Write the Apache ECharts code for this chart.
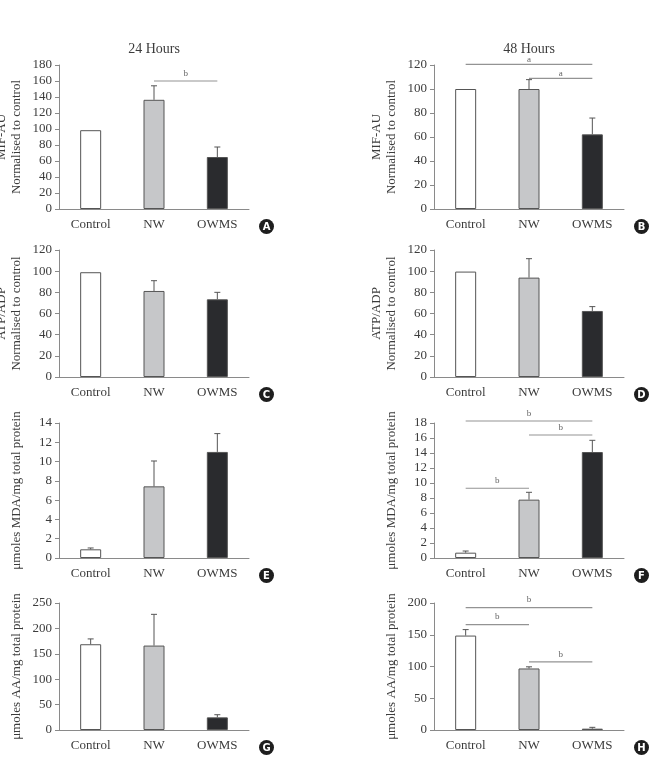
<!DOCTYPE html>
<html>
<head>
<meta charset="utf-8">
<script src="https://cdn.jsdelivr.net/npm/echarts@6/dist/echarts.min.js"></script>
<style>
html, body { margin: 0; padding: 0; background: #fff; }
#chart { width: 661px; height: 766px; }
</style>
</head>
<body>
<div id="chart"></div>
<script>
var groups = ['Control', 'NW', 'OWMS'];

// A, B  MIF-AU normalised to control
var mif24 = [98.5, 136.5, 65];
var mif24Sd = [0, 17.5, 12.5];
var mif48 = [100, 100, 62.2];
var mif48Sd = [0, 7.8, 13.6];

// C, D  ATP/ADP normalised to control
var atp24 = [99, 81.3, 73.4];
var atp24Sd = [0, 9.7, 6.6];
var atp48 = [99.6, 93.9, 62.4];
var atp48Sd = [0, 17.9, 4.1];

// E, F  umoles MDA / mg total protein
var mda24 = [0.9, 7.43, 11.0];
var mda24Sd = [0.14, 2.63, 1.9];
var mda48 = [0.71, 7.78, 14.13];
var mda48Sd = [0.22, 0.98, 1.56];

// G, H  umoles AA / mg total protein
var aa24 = [168.8, 166.2, 24.9];
var aa24Sd = [10.5, 61.5, 5.2];
var aa48 = [148.7, 96.9, 2.1];
var aa48Sd = [9.4, 2.6, 2.1];

// significance lines: [from, to, height, letter]
var sigA = [[1, 2, 160, 'b']];
var sigB = [[0, 2, 120.5, 'a'], [1, 2, 108.9, 'a']];
var sigF = [[0, 2, 18.27, 'b'], [1, 2, 16.4, 'b'], [0, 1, 9.3, 'b']];
var sigH = [[0, 2, 192.7, 'b'], [0, 1, 166, 'b'], [1, 2, 107.3, 'b']];

// y axis ranges per panel A..H
var yMax = [180, 120, 120, 120, 14, 18, 250, 200];
var yStep = [20, 20, 20, 20, 2, 2, 50, 50];

var colTitles = ['24 Hours', '48 Hours'];

var serif = '"Liberation Serif", "DejaVu Serif", serif';
var fills = ['#ffffff', '#c6c7c9', '#2a2b2e'];

var panels = [
    { mean: mif24, sd: mif24Sd, sig: sigA, gap: 3, name: 'MIF-AU\nNormalised to control', badge: 'A' },
    { mean: mif48, sd: mif48Sd, sig: sigB, gap: 0, name: 'MIF-AU\nNormalised to control', badge: 'B' },
    { mean: atp24, sd: atp24Sd, sig: [], gap: 3, name: 'ATP/ADP\nNormalised to control', badge: 'C' },
    { mean: atp48, sd: atp48Sd, sig: [], gap: 3, name: 'ATP/ADP\nNormalised to control', badge: 'D' },
    { mean: mda24, sd: mda24Sd, sig: [], gap: 3, name: 'μmoles MDA/mg total protein', badge: 'E' },
    { mean: mda48, sd: mda48Sd, sig: sigF, gap: 3, name: 'μmoles MDA/mg total protein', badge: 'F' },
    { mean: aa24, sd: aa24Sd, sig: [], gap: 3, name: 'μmoles AA/mg total protein', badge: 'G' },
    { mean: aa48, sd: aa48Sd, sig: sigH, gap: 3, name: 'μmoles AA/mg total protein', badge: 'H' }
];

// grid placement (pixels)
var colLeft = [59, 434];
var rowTop = [65, 250, 423, 603];
var rowHeight = [144, 127, 135, 127];
var gridWidth = 190;

var grids = [], xAxes = [], yAxes = [], series = [], graphics = [];

panels.forEach(function (p, i) {
    var col = i % 2;
    var row = Math.floor(i / 2);
    var top = rowTop[row];
    var h = rowHeight[row];

    grids.push({
        left: colLeft[col], top: top, width: gridWidth, height: h,
        containLabel: false, outerBoundsMode: 'none'
    });

    xAxes.push({
        type: 'category', gridIndex: i, data: groups,
        axisLine: { lineStyle: { color: '#8a8a8a', width: 1 } },
        axisTick: { show: false },
        axisLabel: { color: '#3c3c3c', fontFamily: serif, fontSize: 13, margin: 9 },
        splitLine: { show: false }
    });

    yAxes.push({
        type: 'value', gridIndex: i, min: 0, max: yMax[i], interval: yStep[i],
        axisLine: { show: true, lineStyle: { color: '#8a8a8a', width: 1 } },
        axisTick: { show: true, inside: false, length: 4, lineStyle: { color: '#8a8a8a' } },
        axisLabel: { color: '#3c3c3c', fontFamily: serif, fontSize: 13, margin: 7 },
        splitLine: { show: false },
        name: p.name, nameLocation: 'middle', nameGap: 35,
        nameTextStyle: { color: '#3c3c3c', fontFamily: serif, fontSize: 13, lineHeight: 15 }
    });

    // bars
    series.push({
        type: 'bar', xAxisIndex: i, yAxisIndex: i, barWidth: 21,
        itemStyle: { borderColor: '#555', borderWidth: 1 },
        data: p.mean.map(function (v, k) {
            return { value: v, itemStyle: { color: fills[k] } };
        }),
        animation: false
    });

    // error bars (upper only)
    var errData = [];
    p.mean.forEach(function (v, k) {
        if (p.sd[k] > 0) errData.push([k, v, v + p.sd[k]]);
    });
    series.push({
        type: 'custom', xAxisIndex: i, yAxisIndex: i, data: errData, z: 3,
        renderItem: function (params, api) {
            var a = api.coord([api.value(0), api.value(1)]);
            var b = api.coord([api.value(0), api.value(2)]);
            var st = { stroke: '#555', lineWidth: 1 };
            return {
                type: 'group',
                children: [
                    { type: 'line', shape: { x1: a[0], y1: a[1], x2: b[0], y2: b[1] }, style: st },
                    { type: 'line', shape: { x1: b[0] - 3, y1: b[1], x2: b[0] + 3, y2: b[1] }, style: st }
                ]
            };
        },
        animation: false
    });

    // significance lines
    if (p.sig.length) {
        series.push({
            type: 'custom', xAxisIndex: i, yAxisIndex: i, data: p.sig, clip: false,
            renderItem: function (params, api) {
                var s = p.sig[params.dataIndex];
                var a = api.coord([s[0], s[2]]);
                var b = api.coord([s[1], s[2]]);
                return {
                    type: 'group',
                    children: [
                        { type: 'line', shape: { x1: a[0], y1: a[1], x2: b[0], y2: b[1] },
                          style: { stroke: '#939393', lineWidth: 1.2 } },
                        { type: 'text', x: (a[0] + b[0]) / 2, y: a[1] - p.gap,
                          style: { text: s[3], fill: '#666', font: '9px ' + serif,
                                   align: 'center', verticalAlign: 'bottom' } }
                    ]
                };
            },
            animation: false
        });
    }

    // letter badge
    graphics.push({
        type: 'group', left: colLeft[col] + gridWidth + 10, top: top + h + 10,
        children: [
            { type: 'circle', shape: { cx: 7.5, cy: 7.5, r: 7.5 }, style: { fill: '#1e1e1e' } },
            { type: 'text', x: 7.5, y: 8,
              style: { text: p.badge, fill: '#fff', font: 'bold 10px "DejaVu Sans", sans-serif',
                       align: 'center', verticalAlign: 'middle' } }
        ]
    });
});

// column titles
colTitles.forEach(function (t, c) {
    graphics.push({
        type: 'text', x: colLeft[c] + 95, y: 49,
        style: { text: t, fill: '#3c3c3c', font: '14px ' + serif, align: 'center', verticalAlign: 'middle' }
    });
});

var myChart = echarts.init(document.getElementById('chart'));
myChart.setOption({
    backgroundColor: '#fff',
    animation: false,
    grid: grids,
    xAxis: xAxes,
    yAxis: yAxes,
    series: series,
    graphic: graphics
});
</script>
</body>
</html>
